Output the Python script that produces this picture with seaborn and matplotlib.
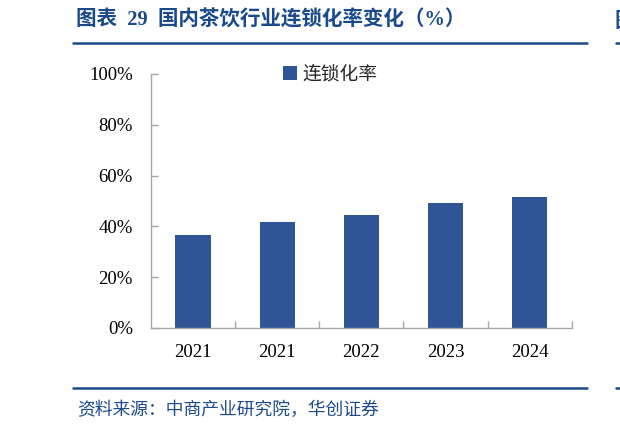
import matplotlib

matplotlib.use("Agg")
import matplotlib.pyplot as plt
import pandas as pd
import seaborn as sns
from matplotlib.lines import Line2D
from matplotlib.ticker import FixedLocator, PercentFormatter

# data
years = ["2021", "2021", "2022", "2023", "2024"]
chain_rate = [36.6, 41.9, 44.4, 49.1, 51.7]
series_name = "连锁化率"
y_ticks = [0, 20, 40, 60, 80, 100]

title = "图表  29  国内茶饮行业连锁化率变化（%）"
source = "资料来源：中商产业研究院，华创证券"

BLUE = "#2F5597"
DARK = "#1B4A8A"
GREY = "#A6A6A6"
W, H = 620, 430

sns.set_theme(style="white")
plt.rcParams["font.family"] = ["Liberation Serif", "Noto Sans CJK SC", "DejaVu Sans"]

df = pd.DataFrame({"pos": range(len(years)), "rate": chain_rate, "series": series_name})

fig = plt.figure(figsize=(W / 100, H / 100), dpi=100)
ax = fig.add_axes([151 / W, (H - 328) / H, (571.7 - 151) / W, (328 - 74) / H])

sns.barplot(data=df, x="pos", y="rate", hue="series", palette=[BLUE],
            saturation=1, width=0.42, ax=ax, edgecolor="none")

ax.set_xlim(-0.5, len(years) - 0.5)
ax.set_ylim(0, 100)
ax.set_yticks(y_ticks)
ax.yaxis.set_major_formatter(PercentFormatter(decimals=0))
ax.set_xticks(range(len(years)))
ax.set_xticklabels(years)
ax.xaxis.set_minor_locator(FixedLocator([i + 0.5 for i in range(len(years))]))
ax.set_xlabel("")
ax.set_ylabel("")

for side in ["top", "right"]:
    ax.spines[side].set_visible(False)
for side in ["left", "bottom"]:
    ax.spines[side].set_color(GREY)
    ax.spines[side].set_linewidth(1.0)

ax.tick_params(axis="y", direction="in", length=5, width=1, color=GREY,
               labelsize=13.5, pad=13, left=True)
ax.tick_params(axis="x", which="major", length=0, labelsize=13.5, pad=11.5)
ax.tick_params(axis="x", which="minor", direction="in", length=5, width=1,
               color=GREY, bottom=True)
for lab in ax.get_xticklabels() + ax.get_yticklabels():
    lab.set_color("black")

leg = ax.legend(loc="center left", bbox_to_anchor=((283 - 151) / (571.7 - 151), 1.0),
                frameon=False, handlelength=0.75, handleheight=0.75,
                handletextpad=0.3, borderaxespad=0, borderpad=0,
                prop={"family": ["Noto Sans CJK SC"], "size": 13.5})

# header and footer of the report panel
fig.text(76 / W, 1 - 20.7 / H, title, color=DARK, fontsize=14.8, fontweight="bold",
         va="center", ha="left")
fig.text(615 / W, 1 - 20.7 / H, "图", color=DARK, fontsize=14.8, fontweight="bold",
         va="center", ha="left", family=["Noto Sans CJK SC"])
for y in (42.7, 388):
    fig.add_artist(Line2D([73 / W, 586.7 / W], [1 - y / H] * 2, color=DARK, lw=1.8))
    fig.add_artist(Line2D([615.5 / W, 1.0], [1 - y / H] * 2, color=DARK, lw=1.8))
fig.text(77 / W, 1 - 410 / H, source, color=DARK, fontsize=12.8, va="center", ha="left",
         family=["Noto Sans CJK SC"])

fig.savefig("out.png", dpi=100)
